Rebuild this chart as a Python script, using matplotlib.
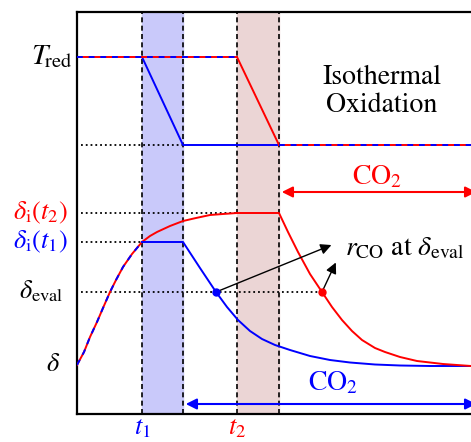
import numpy as np
import matplotlib.pyplot as plt

plt.rcParams['mathtext.fontset'] = 'stix'
plt.rcParams['font.family'] = ['STIXGeneral', 'Liberation Serif', 'DejaVu Serif']

# schematic units (arbitrary time / level)
t1_band = [65, 106]
t2_band = [160, 202]
t_end = 394

T_red = 357
T_ox = 269
d_t2 = 201
d_t1 = 172
d_eval = 122

# temperature programmes
T_blue_x = [0, 65, 106, 202]
T_blue_y = [357, 357, 269, 269]
T_red_x = [0, 160, 202]
T_red_y = [357, 357, 269]
T_common_x = [202, 394]
T_common_y = [269, 269]

# reduction (common up to t1, red continues to t2)
rise_x = [0, 7, 13, 20, 26, 33, 39, 46, 55, 65, 73, 80, 93, 106, 119, 133, 146, 160]
rise_y = [49, 62, 77, 92, 106, 122, 134, 147, 160, 172, 178, 182, 188, 193, 196, 199, 200, 201]

# blue run: hold then oxidation
blue_x = [65, 106, 123, 139, 150, 161, 173, 185, 198, 213, 233, 253, 273, 298, 323, 353, 394]
blue_y = [172, 172, 146, 122, 107, 94, 83, 75, 69, 64, 58, 54, 51.5, 49.5, 48.5, 48, 48]

# red run: oxidation after t2
red_x = [160, 202, 211, 221, 233, 245, 255, 265, 275, 285, 298, 308, 323, 340, 366, 394]
red_y = [201, 201, 182, 162, 140, 122, 107, 94, 83, 74, 66, 62, 57, 53, 50, 48]

eval_pts_x = [139, 245]

fig = plt.figure(figsize=(4.71, 4.42), dpi=100)
ax = fig.add_axes([77 / 471, 28 / 442, 394 / 471, 402 / 442])
ax.set_xlim(0, 394)
ax.set_ylim(0, 402)

# bands
ax.axvspan(*t1_band, color='#c9c9fa', zorder=0)
ax.axvspan(*t2_band, color='#ebd5d5', zorder=0)
for xv in t1_band + t2_band:
    ax.axvline(xv, color='black', ls='--', lw=1.2, dashes=(3, 2), zorder=1)

# dotted guide lines
ax.plot([4, t1_band[1]], [T_ox, T_ox], color='black', ls=':', lw=1.3, zorder=1)
ax.plot([4, t2_band[0]], [d_t2, d_t2], color='black', ls=':', lw=1.3, zorder=1)
ax.plot([4, t1_band[0]], [d_t1, d_t1], color='black', ls=':', lw=1.3, zorder=1)
ax.plot([4, eval_pts_x[1]], [d_eval, d_eval], color='black', ls=':', lw=1.3, zorder=1)

lw = 1.4
# temperature
ax.plot(T_blue_x[1:], T_blue_y[1:], color='blue', lw=lw, zorder=3)
ax.plot(T_red_x[1:], T_red_y[1:], color='red', lw=lw, zorder=3)
for xs, ys in [(T_red_x[:2], T_red_y[:2]), (T_common_x, T_common_y)]:
    ax.plot(xs, ys, color='red', lw=lw, zorder=3)
    ax.plot(xs, ys, color='blue', lw=lw, dashes=(3, 3), zorder=4)

# delta curves
k = rise_x.index(65) + 1
ax.plot(rise_x[:k], rise_y[:k], color='red', lw=lw, zorder=3)
ax.plot(rise_x[:k], rise_y[:k], color='blue', lw=lw, dashes=(3, 3), zorder=4)
ax.plot(rise_x[k - 1:], rise_y[k - 1:], color='red', lw=lw, zorder=3)
ax.plot(blue_x, blue_y, color='blue', lw=lw, zorder=3)
ax.plot(red_x, red_y, color='red', lw=lw, zorder=3)

ax.plot(eval_pts_x[0], d_eval, 'o', color='blue', ms=5, zorder=5)
ax.plot(eval_pts_x[1], d_eval, 'o', color='red', ms=5, zorder=5)

# arrows to annotation
ax.annotate('', xy=(257, 170), xytext=(eval_pts_x[0], d_eval),
            arrowprops=dict(arrowstyle='-|>', color='black', lw=1, mutation_scale=16))
ax.annotate('', xy=(260, 154), xytext=(eval_pts_x[1], d_eval),
            arrowprops=dict(arrowstyle='-|>', color='black', lw=1, mutation_scale=16))
ax.text(268, 165, r'$r_{\rm CO}$ at $\delta_{\rm eval}$', fontsize=20, va='center', ha='left')

# CO2 arrows
ax.annotate('', xy=(402, 222), xytext=(t2_band[1], 222),
            arrowprops=dict(arrowstyle='<|-|>', color='red', lw=1.5, mutation_scale=16),
            annotation_clip=False)
ax.text(300, 237, r'$\mathrm{CO}_2$', color='red', fontsize=20, ha='center', va='center')
ax.annotate('', xy=(402, 10), xytext=(t1_band[1], 10),
            arrowprops=dict(arrowstyle='<|-|>', color='blue', lw=1.5, mutation_scale=16),
            annotation_clip=False)
ax.text(256, 31, r'$\mathrm{CO}_2$', color='blue', fontsize=20, ha='center', va='center')

ax.text(305, 323, 'Isothermal\nOxidation', fontsize=20, ha='center', va='center',
        linespacing=1.15)

# y labels
ax.text(-4, T_red, r'$T_{\!\rm red}$', fontsize=21, ha='right', va='center')
ax.text(-9, d_t2, r'$\delta_{\rm i}(t_2)$', color='red', fontsize=19, ha='right', va='center')
ax.text(-9, d_t1, r'$\delta_{\rm i}(t_1)$', color='blue', fontsize=19, ha='right', va='center')
ax.text(-14, d_eval, r'$\delta_{\rm eval}$', fontsize=19, ha='right', va='center')
ax.text(-17, 49, r'$\delta$', fontsize=19, ha='right', va='center')

# x labels
ax.text(t1_band[0], -26, r'$t_1$', color='blue', fontsize=19, ha='center', va='bottom')
ax.text(t2_band[0], -26, r'$t_2$', color='red', fontsize=19, ha='center', va='bottom')

ax.set_xticks([])
ax.set_yticks([])
ax.spines['right'].set_visible(False)
for s in ['left', 'bottom', 'top']:
    ax.spines[s].set_linewidth(1.6)

fig.savefig('out.png', dpi=100)
